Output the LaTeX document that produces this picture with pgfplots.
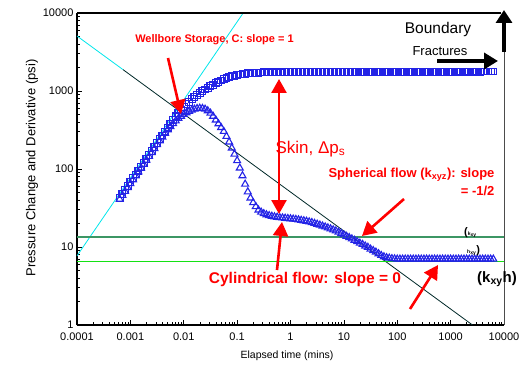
\documentclass[border=0pt]{standalone}
\usepackage{pgfplots}
\pgfplotsset{compat=1.18}
\usepackage{pgfplotstable}
\usepackage{fontspec}
\setmainfont{Liberation Sans}
\usetikzlibrary{arrows.meta}
\definecolor{mblue}{RGB}{35,35,230}
\definecolor{wcyan}{RGB}{0,230,235}
\definecolor{dteal}{RGB}{0,40,40}
\definecolor{sgreen}{RGB}{60,150,100}
\definecolor{lgreen}{RGB}{20,225,20}
\definecolor{ared}{RGB}{255,0,0}

\pgfplotstableread{
t p d
6.310e-4 42.7 41.0
7.079e-4 47.9 46.0
7.943e-4 53.7 51.6
8.913e-4 60.3 57.9
1.000e-3 67.6 64.9
1.122e-3 75.9 72.9
1.259e-3 85.1 81.7
1.413e-3 95.5 91.7
1.585e-3 107 103
1.778e-3 120 115
1.995e-3 135 130
2.239e-3 151 145
2.512e-3 170 163
2.818e-3 191 183
3.162e-3 214 205
3.548e-3 240 229
3.981e-3 269 256
4.467e-3 302 287
5.012e-3 339 318
5.623e-3 380 350
6.310e-3 427 382
7.079e-3 473 414
7.943e-3 522 445
8.913e-3 573 474
1.000e-2 624 501
1.122e-2 676 527
1.259e-2 728 550
1.413e-2 782 570
1.585e-2 836 586
1.778e-2 889 597
1.995e-2 942 602
2.239e-2 993 598
2.512e-2 1045 585
2.818e-2 1096 558
3.162e-2 1148 520
3.548e-2 1202 475
3.981e-2 1259 425
4.467e-2 1312 380
5.012e-2 1365 340
5.623e-2 1413 303
6.310e-2 1459 262
7.079e-2 1500 222
7.943e-2 1538 186
8.913e-2 1574 155
0.1000 1603 128
0.1122 1629 103
0.1259 1648 82
0.1413 1667 64
0.1585 1683 51
0.1778 1694 42.5
0.1995 1706 37
0.2239 1714 33
0.2512 1722 29.8
0.2818 1726 28.0
0.3162 1730 26.8
0.3548 1731 25.9
0.3981 1732 25.3
0.4467 1732 24.8
0.5012 1733 24.4
0.5623 1733 24.1
0.6310 1734 23.8
0.7079 1734 23.6
0.7943 1735 23.4
0.8913 1735 23.2
1.000 1736 23.0
1.122 1736 22.8
1.259 1737 22.6
1.413 1737 22.3
1.585 1738 22.0
1.778 1738 21.7
1.995 1739 21.4
2.239 1739 21.0
2.512 1740 20.6
2.818 1741 20.1
3.162 1741 19.6
3.548 1742 19.1
3.981 1742 18.6
4.467 1743 18.1
5.012 1743 17.6
5.623 1744 17.1
6.310 1744 16.6
7.079 1745 16.1
7.943 1746 15.5
8.913 1746 14.9
10.00 1747 14.3
11.22 1747 13.7
12.59 1748 13.2
14.13 1748 12.7
15.85 1749 12.2
17.78 1750 11.7
19.95 1750 11.2
22.39 1751 10.8
25.12 1751 10.3
28.18 1752 9.9
31.62 1752 9.4
35.48 1753 9.0
39.81 1754 8.6
44.67 1754 8.2
50.12 1755 7.8
56.23 1755 7.5
63.10 1756 7.3
70.79 1756 7.2
79.43 1757 7.1
89.13 1758 7.05
100.0 1758 7.0
112.2 1759 7.0
125.9 1759 7.0
141.3 1760 7.0
158.5 1760 7.0
177.8 1761 7.0
199.5 1761 7.0
223.9 1762 7.0
251.2 1762 7.0
281.8 1763 7.0
316.2 1764 7.0
354.8 1764 7.0
398.1 1765 7.0
446.7 1765 7.0
501.2 1766 7.0
562.3 1766 7.0
631.0 1767 7.0
707.9 1767 7.0
794.3 1768 7.0
891.3 1768 7.0
1000 1769 7.0
1122 1770 7.0
1259 1770 7.0
1413 1771 7.0
1585 1771 7.0
1778 1772 7.0
1995 1772 7.0
2239 1773 7.0
2512 1773 7.0
2818 1774 7.0
3162 1775 7.0
3548 1775 7.0
3981 1776 7.0
4467 1776 7.0
5012 1777 7.0
5623 1777 7.0
6310 1778 7.0
}\data

\begin{document}
\begin{tikzpicture}
\useasboundingbox (-77pt,-45pt) rectangle (452pt,325pt);
\begin{axis}[at={(0pt,0pt)}, anchor=south west, scale only axis,
  width=427pt, height=312pt,
  xmode=log, ymode=log, xmin=1e-4, xmax=1e4, ymin=1, ymax=1e4,
  axis lines=left, axis line style={-, line width=1.2pt},
  tick align=inside, major tick length=5pt, minor tick length=3pt,
  xtick={1e-4,1e-3,0.01,0.1,1,10,100,1000,10000},
  xticklabels={0.0001,0.001,0.01,0.1,1,10,100,1000,10000},
  ytick={1,10,100,1000,10000}, yticklabels={1,10,100,1000,10000},
  tick label style={font=\fontsize{11}{13}\selectfont},
  /pgf/number format/assume math mode=true,
  xticklabel style={yshift=-4pt},
  every tick/.style={black, line width=0.6pt},
]
\addplot[wcyan, line width=0.8pt] coordinates {(1e-4,7.7) (0.2,15400)};
\addplot[wcyan, line width=0.8pt] coordinates {(1e-4,5070) (7.3e-4,1877)};
\addplot[dteal, line width=0.8pt] coordinates {(7.3e-4,1877) (2570,1)};
\addplot[sgreen, line width=1.5pt] coordinates {(1e-4,13.4) (1e4,13.4)};
\addplot[lgreen, line width=1pt] coordinates {(1e-4,6.6) (1e4,6.6)};
\addplot[mblue, only marks, mark=square, mark size=3.4pt, mark options={line width=1.1pt}] table[x=t,y=p] {\data};
\addplot[mblue, only marks, mark=triangle, mark size=4pt, mark options={line width=1.1pt}] table[x=t,y=d] {\data};
\end{axis}
\begin{scope}[x=1pt,y=-1pt,shift={(-77pt,325pt)}]
% frame top and right
\draw[black, line width=1.2pt] (77,13) -- (501,13);
\draw[black!70, line width=0.8pt] (504,13) -- (504,325);
% axis labels
\node[font=\fontsize{10.5}{12}\selectfont] at (287,356) {Elapsed time (mins)};
\node[font=\fontsize{13}{15}\selectfont, rotate=90] at (32,168) {Pressure Change and Derivative (psi)};
% red annotations
\node[ared, font=\bfseries\fontsize{11}{13}\selectfont] at (214.5,40) {Wellbore Storage, C: slope = 1};
\draw[ared, line width=2.6pt, -{Triangle[length=14pt,width=15pt]}] (168,58) -- (181,114);
\draw[ared, line width=2.6pt, {Triangle[length=14pt,width=15pt]}-{Triangle[length=14pt,width=15pt]}] (279,79) -- (279,214);
\draw[ared, line width=2.6pt, -{Triangle[length=14pt,width=15pt]}] (277,270) -- (282,222);
\node[ared, anchor=west, font=\fontsize{17}{19}\selectfont] at (272,149) {Skin, Δp\textsubscript{s}};
\node[ared, anchor=east, font=\bfseries\fontsize{13}{15}\selectfont] at (498,175) {Spherical flow (k\textsubscript{xyz}): slope};
\node[ared, anchor=east, font=\bfseries\fontsize{13}{15}\selectfont] at (498,191) {= -1/2};
\draw[ared, line width=2.6pt, -{Triangle[length=14pt,width=15pt]}] (404,199) -- (362,236);
\node[ared, font=\bfseries\fontsize{15.5}{18}\selectfont] at (305,279) {Cylindrical flow: slope = 0};
\draw[ared, line width=2.6pt, -{Triangle[length=14pt,width=15pt]}] (410,309) -- (438,265);
% black annotations
\node[font=\bfseries\fontsize{15}{17}\selectfont] at (497,279) {(k\textsubscript{xy}h)};
\node[font=\fontsize{15.5}{18}\selectfont] at (438,29) {Boundary};
\node[font=\fontsize{13}{15}\selectfont] at (440,51) {Fractures};
\draw[black, line width=4.5pt, -{Triangle[length=14pt,width=16pt]}] (437,61) -- (498,61);
\draw[black, line width=4.5pt, -{Triangle[length=13pt,width=16pt]}] (504,52) -- (504,10);
\node[anchor=west, inner sep=0pt] at (464,233) {\bfseries\fontsize{11}{12}\selectfont (\fontsize{5}{6}\selectfont k\textsubscript{xy}};
\node[anchor=west, inner sep=0pt] at (467,251) {\bfseries\fontsize{5}{6}\selectfont h\textsubscript{xy}\fontsize{11}{12}\selectfont )};
\end{scope}
\end{tikzpicture}
\end{document}
